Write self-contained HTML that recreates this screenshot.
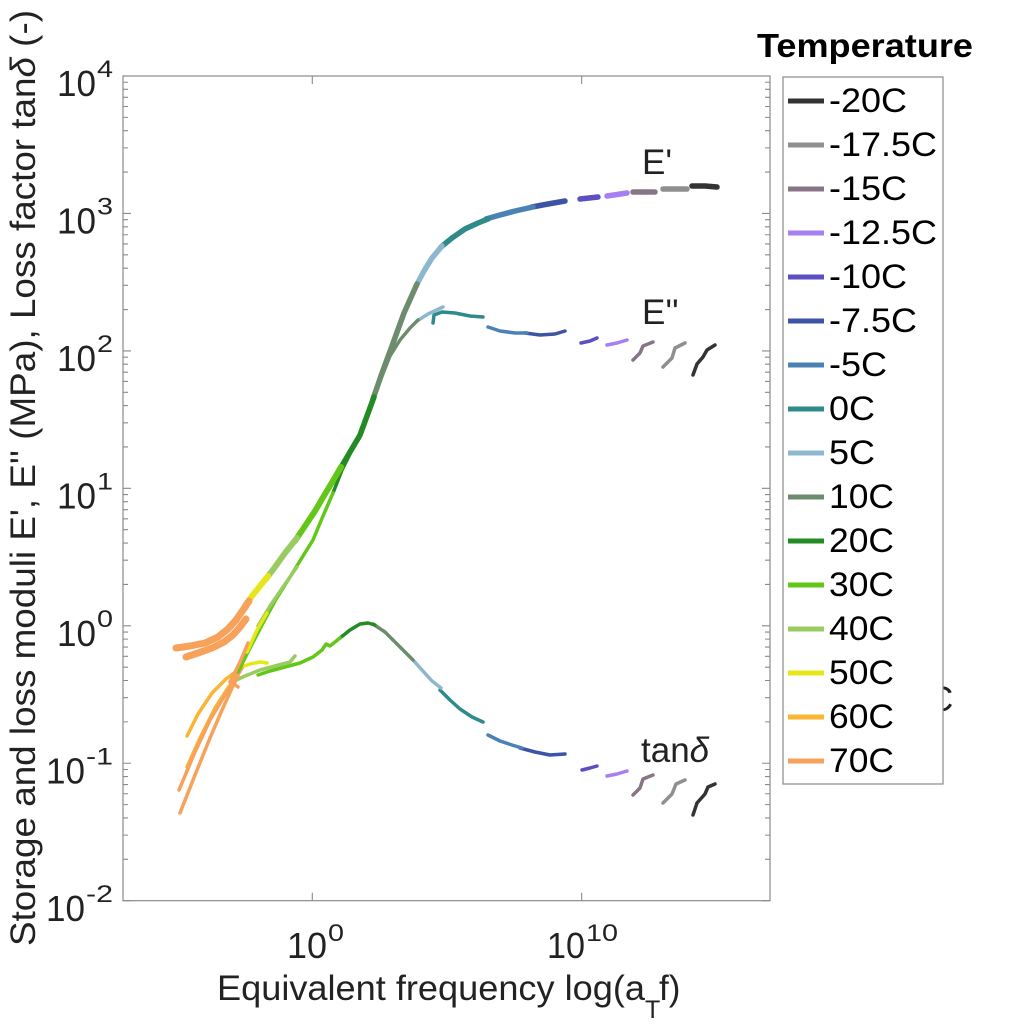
<!DOCTYPE html>
<html>
<head>
<meta charset="utf-8">
<style>
html,body{margin:0;padding:0;background:#fff;}
svg{display:block;}
text{font-family:"Liberation Sans",Arial,sans-serif;fill:#222;}
</style>
</head>
<body>
<svg width="1024" height="1024" viewBox="0 0 1024 1024" xmlns="http://www.w3.org/2000/svg">
<rect x="0" y="0" width="1024" height="1024" fill="#fff"/>

<!-- axes box -->
<rect x="123" y="76" width="647" height="824.7" fill="none" stroke="#8a8a8a" stroke-width="1.2"/>

<!-- y ticks left -->
<g id="lt" stroke="#8a8a8a" stroke-width="1.1" fill="none">
<path d="M123 76h8M123 213.45h8M123 350.9h8M123 488.35h8M123 625.8h8M123 763.25h8M123 900.7h8"/>
<path d="M123 859.32h5M123 835.12h5M123 817.95h5M123 804.63h5M123 793.74h5M123 784.54h5M123 776.57h5M123 769.49h5
M123 721.87h5M123 697.67h5M123 680.5h5M123 667.18h5M123 656.29h5M123 647.09h5M123 639.12h5M123 632.04h5
M123 584.42h5M123 560.22h5M123 543.05h5M123 529.73h5M123 518.84h5M123 509.64h5M123 501.67h5M123 494.59h5
M123 446.97h5M123 422.77h5M123 405.6h5M123 392.28h5M123 381.39h5M123 372.19h5M123 364.22h5M123 357.14h5
M123 309.52h5M123 285.32h5M123 268.15h5M123 254.83h5M123 243.94h5M123 234.74h5M123 226.77h5M123 219.69h5
M123 172.07h5M123 147.87h5M123 130.7h5M123 117.38h5M123 106.49h5M123 97.29h5M123 89.32h5M123 82.24h5"/>
</g>
<use href="#lt" transform="translate(893,0) scale(-1,1)"/>
<!-- x ticks -->
<path d="M312.3 900.7v-8M581.7 900.7v-8M312.3 76v8M581.7 76v8" stroke="#8a8a8a" stroke-width="1.1"/>

<!-- y tick labels -->
<g font-size="36">
<text x="57" y="96" textLength="39" lengthAdjust="spacingAndGlyphs">10</text>
<text x="57" y="233.5" textLength="39" lengthAdjust="spacingAndGlyphs">10</text>
<text x="57" y="371" textLength="39" lengthAdjust="spacingAndGlyphs">10</text>
<text x="57" y="508.5" textLength="39" lengthAdjust="spacingAndGlyphs">10</text>
<text x="57" y="646" textLength="39" lengthAdjust="spacingAndGlyphs">10</text>
<text x="46" y="783.5" textLength="39" lengthAdjust="spacingAndGlyphs">10</text>
<text x="46" y="921" textLength="39" lengthAdjust="spacingAndGlyphs">10</text>
</g>
<g font-size="24">
<text x="97" y="77" textLength="16" lengthAdjust="spacingAndGlyphs">4</text>
<text x="97" y="214.5" textLength="16" lengthAdjust="spacingAndGlyphs">3</text>
<text x="97" y="352" textLength="16" lengthAdjust="spacingAndGlyphs">2</text>
<text x="97" y="489.5" textLength="16" lengthAdjust="spacingAndGlyphs">1</text>
<text x="97" y="627" textLength="16" lengthAdjust="spacingAndGlyphs">0</text>
<text x="86" y="764.5" textLength="27" lengthAdjust="spacingAndGlyphs">-1</text>
<text x="86" y="902" textLength="27" lengthAdjust="spacingAndGlyphs">-2</text>
</g>

<!-- x tick labels -->
<text x="287" y="958" font-size="36" textLength="40" lengthAdjust="spacingAndGlyphs">10</text><text x="328" y="941" font-size="24" textLength="16" lengthAdjust="spacingAndGlyphs">0</text>
<text x="547" y="958" font-size="36" textLength="38" lengthAdjust="spacingAndGlyphs">10</text><text x="586" y="941" font-size="24" textLength="32" lengthAdjust="spacingAndGlyphs">10</text>

<!-- axis labels -->
<text x="217" y="1000" font-size="35" textLength="428" lengthAdjust="spacingAndGlyphs">Equivalent frequency log(a</text>
<text x="645" y="1018" font-size="25">T</text>
<text x="659" y="1000" font-size="35">f)</text>

<text transform="translate(35,946) rotate(-90)" font-size="35" textLength="936" lengthAdjust="spacingAndGlyphs">Storage and loss moduli E', E'' (MPa), Loss factor tan<tspan font-style="italic">δ</tspan> (-)</text>

<!-- curves -->
<g fill="none" stroke-linecap="round" stroke-linejoin="round">
<!-- tan delta -->
<g stroke-width="3.5">
<polyline stroke="#333333" points="693,815 697,803 705,794 708,787 715,784"/>
<polyline stroke="#8f8f8f" points="663,803 672,794 676,784 685,780"/>
<polyline stroke="#877586" points="633,795 640,788 643,779 653,775"/>
<polyline stroke="#a67ff2" points="607,776 617,774 627,771"/>
<polyline stroke="#5b4fc2" points="582,770 590,768 597,766"/>
<polyline stroke="#3d53a6" points="520,748 535,752 550,755 565,754"/>
<polyline stroke="#4a82b4" points="488,735 500,741 512,745 522,748"/>
<polyline stroke="#2f8a8a" points="440,690 450,700 460,709 472,717 483,722"/>
<polyline stroke="#8db7ce" points="413,660 422,670 432,681 441,688"/>
<polyline stroke="#6d8c6d" points="373,624 385,632 395,642 405,652 413,660"/>
<polyline stroke="#238b23" points="340,638 350,630 360,624 368,623 375,625"/>
<polyline stroke="#63c71a" points="258,675 270,671 285,667 300,663 313,657 322,650 326,644 330,646 340,638"/>
<polyline stroke="#9acb60" points="232,682 245,676 260,670 275,666 290,662 295,656"/>
<polyline stroke="#e6e619" points="238,668 250,664 260,662 267,663"/>
<polyline stroke="#fbb532" points="187,736 198,714 212,693 226,679 238,670"/>
<polyline stroke="#fbb532" points="187,767 200,738 215,708 228,688 240,670"/>
<polyline stroke="#f7a25a" points="179,790 195,752 210,720 225,695 236,678 242,668"/>
<polyline stroke="#f7a25a" points="180,813 195,775 210,738 222,710 232,688 238,676"/>
<polyline stroke="#f7a25a" points="233,683 238,687"/>
</g>
<!-- E'' -->
<g stroke-width="3.5">
<polyline stroke="#333333" points="693,375 697,364 703,357 707,350 715,345"/>
<polyline stroke="#8f8f8f" points="663,367 672,358 675,348 685,343"/>
<polyline stroke="#877586" points="633,360 640,353 643,346 653,342"/>
<polyline stroke="#a67ff2" points="607,345 617,343 627,340"/>
<polyline stroke="#5b4fc2" points="581,343 590,341 597,338"/>
<polyline stroke="#3d53a6" points="525,333 540,335 555,334 565,331"/>
<polyline stroke="#4a82b4" points="488,327 500,331 515,333 527,333"/>
<polyline stroke="#2f8a8a" points="433,323 434,315 442,312 455,313 470,316 483,317"/>
<polyline stroke="#8db7ce" points="417,321 428,314 443,307"/>
<polyline stroke="#6d8c6d" points="380,381 390,356 400,340 410,328 418,320"/>
<polyline stroke="#238b23" points="333,493 342,470 351,452 360,437 368,413 376,392 381,378"/>
<polyline stroke="#63c71a" points="238,672 250,648 262,625 275,601 290,577 303,556 313,540 323,516 333,493"/>
<polyline stroke="#9acb60" points="258,626 270,606 283,587 297,567"/>
<polyline stroke="#e6e619" points="247,652 257,630 267,613"/>
<polyline stroke="#f7a25a" points="230,682 240,662 248,643"/>
</g>
<!-- E' -->
<g stroke-width="5.5">
<polyline stroke="#333333" points="692,186 705,186 717,187"/>
<polyline stroke="#8f8f8f" points="663,189 687,189"/>
<polyline stroke="#877586" points="633,192 655,192"/>
<polyline stroke="#a67ff2" points="607,196 627,193"/>
<polyline stroke="#5b4fc2" points="580,199 598,197"/>
<polyline stroke="#3d53a6" points="532,207 548,204 565,201"/>
<polyline stroke="#4a82b4" points="486,219 500,215 515,211 533,207"/>
<polyline stroke="#2f8a8a" points="441,247 452,238 465,229 478,223 488,219"/>
<polyline stroke="#8db7ce" points="416,286 424,271 432,258 442,246"/>
<polyline stroke="#6d8c6d" points="373,399 382,373 392,346 404,313 417,284"/>
<polyline stroke="#238b23" points="340,469 350,452 360,435 367,416 374,397"/>
<polyline stroke="#63c71a" stroke-width="6" points="295,541 305,526 315,511 325,494 334,479 341,467"/>
<polyline stroke="#9acb60" stroke-width="6" points="266,579 275,567 285,553 297,538"/>
<polyline stroke="#e6e619" stroke-width="6" points="245,606 252,596 260,586 268,576"/>
<polyline stroke="#f7a25a" stroke-width="7" points="186,657 198,653 212,648 224,642 233,635 240,627 246,619"/>
<polyline stroke="#f7a25a" stroke-width="7" points="176,648 190,646 205,643 218,637 228,629 236,620 243,610 249,601"/>
</g>
</g>

<!-- curve labels -->
<text x="642" y="174" font-size="35">E'</text>
<text x="642" y="324" font-size="35">E''</text>
<text x="641" y="762" font-size="35">tan<tspan font-style="italic">δ</tspan></text>

<!-- hidden text partially covered by legend -->
<text x="928" y="711" font-size="35">C</text>

<!-- legend -->
<text x="757" y="57" font-size="33" font-weight="bold" textLength="216" lengthAdjust="spacingAndGlyphs" style="fill:#000">Temperature</text>
<rect x="783" y="77" width="160" height="707" fill="#fff" stroke="#8a8a8a" stroke-width="1.2"/>
<g stroke-width="5">
<line x1="788" x2="824" y1="101" y2="101" stroke="#333333"/>
<line x1="788" x2="824" y1="145" y2="145" stroke="#8f8f8f"/>
<line x1="788" x2="824" y1="189" y2="189" stroke="#877586"/>
<line x1="788" x2="824" y1="233" y2="233" stroke="#a67ff2"/>
<line x1="788" x2="824" y1="277" y2="277" stroke="#5b4fc2"/>
<line x1="788" x2="824" y1="321" y2="321" stroke="#3d53a6"/>
<line x1="788" x2="824" y1="365" y2="365" stroke="#4a82b4"/>
<line x1="788" x2="824" y1="409" y2="409" stroke="#2f8a8a"/>
<line x1="788" x2="824" y1="453" y2="453" stroke="#8db7ce"/>
<line x1="788" x2="824" y1="497" y2="497" stroke="#6d8c6d"/>
<line x1="788" x2="824" y1="541" y2="541" stroke="#238b23"/>
<line x1="788" x2="824" y1="585" y2="585" stroke="#63c71a"/>
<line x1="788" x2="824" y1="629" y2="629" stroke="#9acb60"/>
<line x1="788" x2="824" y1="673" y2="673" stroke="#e6e619"/>
<line x1="788" x2="824" y1="717" y2="717" stroke="#fbb532"/>
<line x1="788" x2="824" y1="761" y2="761" stroke="#f7a25a"/>
</g>
<g font-size="34">
<text x="829" y="112" textLength="78" lengthAdjust="spacingAndGlyphs" style="fill:#000">-20C</text>
<text x="829" y="156" textLength="108" lengthAdjust="spacingAndGlyphs" style="fill:#000">-17.5C</text>
<text x="829" y="200" textLength="78" lengthAdjust="spacingAndGlyphs" style="fill:#000">-15C</text>
<text x="829" y="244" textLength="108" lengthAdjust="spacingAndGlyphs" style="fill:#000">-12.5C</text>
<text x="829" y="288" textLength="78" lengthAdjust="spacingAndGlyphs" style="fill:#000">-10C</text>
<text x="829" y="332" textLength="88" lengthAdjust="spacingAndGlyphs" style="fill:#000">-7.5C</text>
<text x="829" y="376" textLength="58" lengthAdjust="spacingAndGlyphs" style="fill:#000">-5C</text>
<text x="829" y="420" textLength="46" lengthAdjust="spacingAndGlyphs" style="fill:#000">0C</text>
<text x="829" y="464" textLength="46" lengthAdjust="spacingAndGlyphs" style="fill:#000">5C</text>
<text x="829" y="508" textLength="65" lengthAdjust="spacingAndGlyphs" style="fill:#000">10C</text>
<text x="829" y="552" textLength="65" lengthAdjust="spacingAndGlyphs" style="fill:#000">20C</text>
<text x="829" y="596" textLength="65" lengthAdjust="spacingAndGlyphs" style="fill:#000">30C</text>
<text x="829" y="640" textLength="65" lengthAdjust="spacingAndGlyphs" style="fill:#000">40C</text>
<text x="829" y="684" textLength="65" lengthAdjust="spacingAndGlyphs" style="fill:#000">50C</text>
<text x="829" y="728" textLength="65" lengthAdjust="spacingAndGlyphs" style="fill:#000">60C</text>
<text x="829" y="772" textLength="65" lengthAdjust="spacingAndGlyphs" style="fill:#000">70C</text>
</g>
</svg>
</body>
</html>
